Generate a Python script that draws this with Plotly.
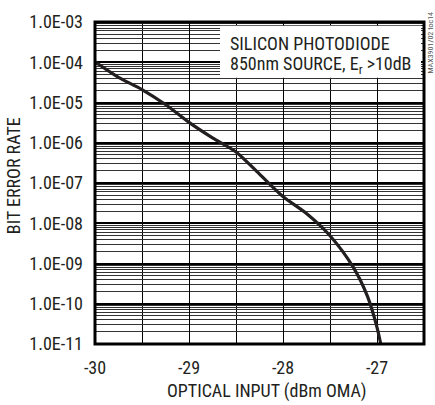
import plotly.graph_objects as go

# Data
optical_input_dbm = [-30.0, -29.75, -29.5, -29.25, -29.0, -28.75, -28.5, -28.25,
                     -28.0, -27.75, -27.5, -27.25, -27.1, -27.0, -26.96]
bit_error_rate = [1.02e-4, 4.2e-5, 2.1e-5, 8.9e-6, 3.2e-6, 1.32e-6, 5.9e-7, 1.66e-7,
                  4.6e-8, 1.74e-8, 4.9e-9, 7.9e-10, 1.5e-10, 2.6e-11, 1.0e-11]

y_tick_vals = [1e-3, 1e-4, 1e-5, 1e-6, 1e-7, 1e-8, 1e-9, 1e-10, 1e-11]
y_tick_text = ["1.0E-03", "1.0E-04", "1.0E-05", "1.0E-06", "1.0E-07",
               "1.0E-08", "1.0E-09", "1.0E-10", "1.0E-11"]
x_tick_vals = [-30, -29, -28, -27]
x_tick_text = ["-30", "-29", "-28", "-27"]

minor_y = [m * d for d in y_tick_vals[1:] for m in range(2, 10)]

FONT = "Roboto Condensed, Liberation Sans Narrow, sans-serif"
INK = "#231f20"
FS = 18

fig = go.Figure()
fig.add_trace(go.Scatter(
    x=optical_input_dbm, y=bit_error_rate, mode="lines",
    line=dict(color=INK, width=3.2, shape="spline", smoothing=0.8),
    showlegend=False, hoverinfo="skip"))

fig.update_layout(
    width=435, height=405,
    margin=dict(l=95, r=11, t=14, b=61),
    paper_bgcolor="white", plot_bgcolor="white",
    font=dict(family=FONT, size=FS, color=INK),
    xaxis=dict(
        range=[-30, -26.5], tickvals=x_tick_vals, ticktext=x_tick_text,
        showgrid=True, gridcolor="black", gridwidth=1,
        minor=dict(tickvals=[-29.5, -28.5, -27.5, -26.5], showgrid=True,
                   gridcolor="black", gridwidth=1),
        ticks="", ticklen=0, zeroline=False, showline=False,
        tickfont=dict(size=FS, family=FONT, color=INK),
        ticklabelstandoff=11,
    ),
    yaxis=dict(
        type="log", range=[-11, -3], tickvals=y_tick_vals, ticktext=y_tick_text,
        showgrid=True, gridcolor="black", gridwidth=2.2,
        minor=dict(tickvals=minor_y, showgrid=True, gridcolor="#333333", gridwidth=1),
        ticks="", ticklen=0, zeroline=False, showline=False,
        tickfont=dict(size=FS, family=FONT, color=INK),
        ticklabelstandoff=11,
    ),
    shapes=[
        dict(type="rect", xref="paper", yref="paper", x0=0.380, x1=0.991,
             y0=0.827, y1=0.988, fillcolor="white", line=dict(width=0), layer="above"),
        dict(type="rect", xref="paper", yref="paper", x0=0, x1=1, y0=0, y1=1,
             line=dict(color="black", width=3), layer="above"),
    ],
    annotations=[
        dict(text="SILICON PHOTODIODE",
             xref="paper", yref="paper", x=0.405, y=(344 - 36.5) / 330, xanchor="left",
             yanchor="middle", align="left", showarrow=False,
             font=dict(size=FS, family=FONT, color=INK)),
        dict(text="850nm SOURCE, E<sub>r</sub> >10dB",
             xref="paper", yref="paper", x=0.405, y=(344 - 58.5) / 330, xanchor="left",
             yanchor="middle", align="left", showarrow=False,
             font=dict(size=FS, family=FONT, color=INK)),
        dict(text="OPTICAL INPUT (dBm OMA)", xref="paper", yref="paper",
             x=(267 - 95) / 329, y=-(392 - 344) / 330, xanchor="center",
             yanchor="middle", showarrow=False,
             font=dict(size=FS, family=FONT, color=INK)),
        dict(text="BIT ERROR RATE", xref="paper", yref="paper",
             x=-(95 - 13) / 329, y=(344 - 172) / 330, xanchor="center",
             yanchor="middle", textangle=-90, showarrow=False,
             font=dict(size=FS, family=FONT, color=INK)),
        dict(text="MAX3901/02 toc14", xref="paper", yref="paper",
             x=(430 - 95) / 329, y=(344 - 35) / 330, xanchor="center",
             yanchor="middle", textangle=-90, showarrow=False,
             font=dict(size=8, family=FONT, color="#555555")),
    ],
)

fig.write_html("out.html", config={"displayModeBar": False},
               post_script="document.body.style.margin='0';")
